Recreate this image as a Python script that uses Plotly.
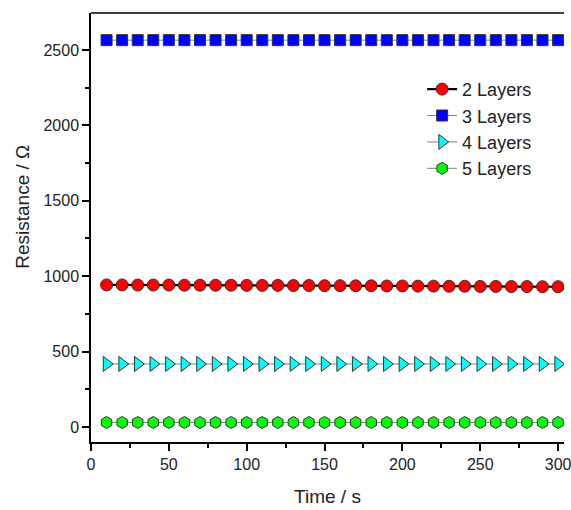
import plotly.graph_objects as go

time_s = [10, 20, 30, 40, 50, 60, 70, 80, 90, 100, 110, 120, 130, 140, 150,
          160, 170, 180, 190, 200, 210, 220, 230, 240, 250, 260, 270, 280, 290, 300]
layers2 = [942, 942, 941, 941, 941, 940, 940, 940, 940, 939, 939, 939, 938, 938, 937,
           937, 936, 936, 935, 935, 934, 934, 933, 933, 932, 932, 931, 931, 930, 930]
layers3 = [2565] * 30
layers4 = [418] * 30
layers5 = [30] * 30

series = [
    ("2 Layers", layers2, "circle", 12, "#ff0000", "#000000", 2.2),
    ("3 Layers", layers3, "square", 11, "#0000ff", "#808080", 1),
    ("4 Layers", layers4, "triangle-right", 13, "#00ffff", "#808080", 1),
    ("5 Layers", layers5, "hexagon", 12, "#00ff00", "#808080", 1),
]

fig = go.Figure()
for name, vals, sym, sz, col, lcol, lw in series:
    fig.add_trace(go.Scatter(
        x=time_s, y=vals, name=name, mode="lines+markers",
        line=dict(color=lcol, width=lw),
        marker=dict(symbol=sym, size=sz, color=col,
                    line=dict(color="#333333", width=1)),
    ))

axis_common = dict(
    showline=True, linecolor="black", linewidth=1.5, mirror=False,
    ticks="outside", ticklen=7, tickwidth=1.5, tickcolor="black",
    showgrid=False, zeroline=False, ticklabeloverflow="allow",
    tickfont=dict(family="Liberation Sans, Arial", size=16, color="#222222"),
    minor=dict(ticks="outside", ticklen=4, tickwidth=1.5, tickcolor="black"),
)

fig.update_layout(
    width=571, height=510,
    margin=dict(l=91, r=0, t=13, b=68),
    plot_bgcolor="white", paper_bgcolor="white",
    font=dict(family="Liberation Sans, Arial", color="#222222"),
    showlegend=True,
    legend=dict(x=0.70, y=0.865, xanchor="left", yanchor="top",
                bgcolor="rgba(0,0,0,0)", font=dict(size=18, color="#222222"),
                tracegroupgap=0),
    xaxis=dict(range=[0, 303.8], dtick=50,
               title=dict(text="Time / s", font=dict(size=19), standoff=18),
               minor_dtick=25, **axis_common),
    yaxis=dict(range=[-99.5, 2745], dtick=500, minor_dtick=250, **axis_common),
    annotations=[dict(text="Resistance / Ω", textangle=-90, xref="paper", yref="paper",
                      x=-0.144, y=0.548, xanchor="center", yanchor="middle",
                      showarrow=False, font=dict(size=19, color="#222222"))],
)
# top border line
fig.add_shape(type="line", xref="paper", yref="paper", x0=0, x1=1, y0=1, y1=1,
              line=dict(color="black", width=1.5))

fig.write_html("out.html")
